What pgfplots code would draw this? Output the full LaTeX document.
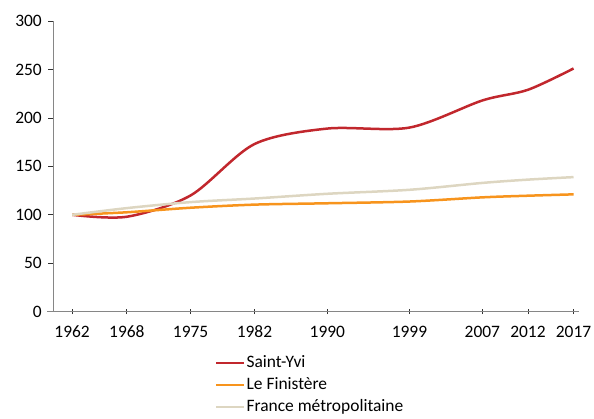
\documentclass[border=0pt]{standalone}
\usepackage{fontspec}
\setmainfont{Carlito}
\usepackage{pgfplots}
\pgfplotsset{compat=1.18}
\definecolor{cred}{HTML}{C1272D}
\definecolor{corange}{HTML}{F7941D}
\definecolor{cbeige}{HTML}{DDD6C1}
\definecolor{caxis}{HTML}{868686}
\begin{document}
\fontsize{17.5}{21}\selectfont
\begin{tikzpicture}
\begin{axis}[
  at={(0bp,0bp)}, anchor=south west,
  scale only axis, width=526bp, height=290.7bp,
  xmin=1959.9, xmax=2017.6, ymin=0, ymax=300,
  axis x line*=bottom, axis y line*=left,
  axis line style={caxis, line width=1bp},
  xtick={1962,1968,1975,1982,1990,1999,2007,2012,2017},
  xticklabels={1962,1968,1975,1982,1990,1999,2007,2012,2017},
  ytick={0,50,100,150,200,250,300},
  tick align=outside, major tick length=5bp,
  every tick/.style={black!80, line width=0.8bp},
  x tick style={yshift=2.5bp},
  /pgf/number format/assume math mode=true,
  ticklabel style={font=\fontsize{17.5}{21}\selectfont},
  xticklabel style={anchor=north, inner sep=0pt, yshift=-9bp},
  yticklabel style={anchor=east, inner sep=0pt, xshift=-6bp},
  legend style={at={(0.3017,-0.14)}, anchor=north west, draw=none, fill=none,
    font=\fontsize{17.5}{21}\selectfont, row sep=5bp,
    nodes={inner sep=1.2bp}},
  legend cell align=left,
  legend image code/.code={\draw[#1] (0bp,0bp) -- (28bp,0bp);},
  every axis plot/.append style={line width=2.5bp, smooth},
]
\addplot[cred] coordinates {(1962,100)(1968,98)(1975,120)(1982,173)(1990,189)(1999,190)(2007,218)(2012,229)(2017,251)};
\addplot[corange] coordinates {(1962,100)(1968,102.6)(1975,107.3)(1982,110.5)(1990,111.9)(1999,113.7)(2007,118)(2012,119.7)(2017,121.1)};
\addplot[cbeige] coordinates {(1962,100)(1968,106.9)(1975,113.1)(1982,116.8)(1990,121.7)(1999,125.8)(2007,132.9)(2012,136.3)(2017,138.9)};
\legend{Saint-Yvi, Le Finistère, France métropolitaine}
\end{axis}
\draw[caxis, line width=1bp] (-5.5bp,0bp) -- (0bp,0bp);
\pgfresetboundingbox
\useasboundingbox (-53bp,-107.3bp) rectangle (541bp,311.7bp);
\end{tikzpicture}
\end{document}
